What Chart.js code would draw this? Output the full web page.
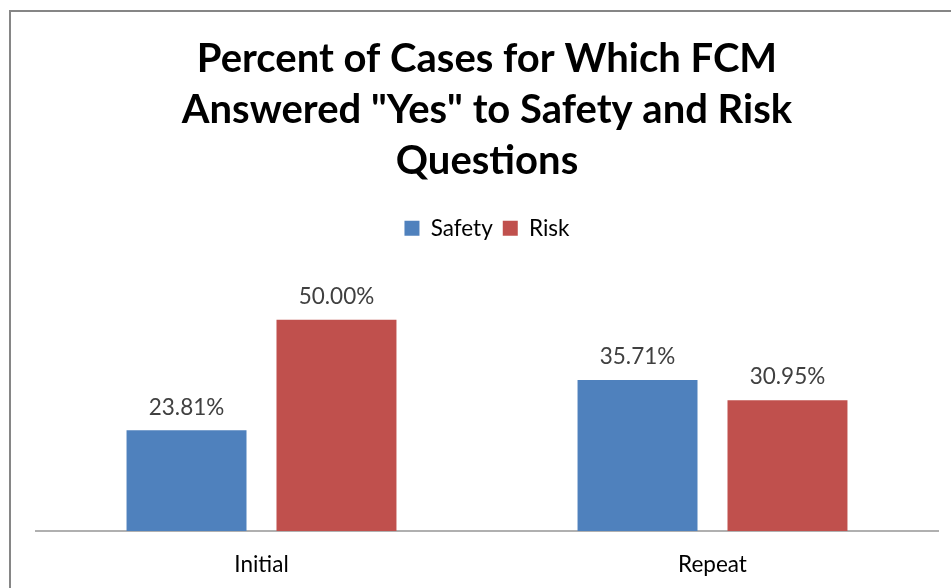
<!DOCTYPE html>
<html>
<head>
<meta charset="utf-8">
<script src="https://cdn.jsdelivr.net/npm/chart.js@4/dist/chart.umd.min.js"></script>
<style>
html,body{margin:0;padding:0;background:#fff;}
#wrap{width:951px;height:588px;position:relative;}
</style>
</head>
<body>
<div id="wrap"><canvas id="c" width="951" height="588"></canvas></div>
<script>
const categories = ["Initial", "Repeat"];
const safetyValues = [23.81, 35.71];
const riskValues = [50.00, 30.95];
const seriesNames = ["Safety", "Risk"];
const titleLines = ["Percent of Cases for Which FCM", "Answered \"Yes\" to Safety and Risk", "Questions"];

const FONT = "Lato, 'Open Sans', sans-serif";
const TXT = 22.5;

const frame = {
  id: 'frame',
  beforeDraw(chart) {
    const ctx = chart.ctx;
    ctx.save();
    ctx.fillStyle = '#fff';
    ctx.fillRect(0, 0, chart.width, chart.height);
    ctx.strokeStyle = '#868686';
    ctx.lineWidth = 2;
    ctx.beginPath();
    ctx.moveTo(10, chart.height + 5);
    ctx.lineTo(10, 11);
    ctx.lineTo(chart.width + 5, 11);
    ctx.stroke();
    ctx.restore();
  }
};

const valueLabels = {
  id: 'valueLabels',
  afterDatasetsDraw(chart) {
    const ctx = chart.ctx;
    ctx.save();
    ctx.font = TXT + "px " + FONT;
    ctx.fillStyle = '#404040';
    ctx.textAlign = 'center';
    ctx.textBaseline = 'middle';
    chart.data.datasets.forEach((ds, i) => {
      chart.getDatasetMeta(i).data.forEach((el, j) => {
        ctx.fillText(ds.data[j].toFixed(2) + '%', el.x, el.y - 23);
      });
    });
    ctx.restore();
  }
};

new Chart(document.getElementById('c'), {
  type: 'bar',
  data: {
    labels: categories,
    datasets: [
      { label: seriesNames[0], data: safetyValues, backgroundColor: '#4f81bd' },
      { label: seriesNames[1], data: riskValues, backgroundColor: '#c0504d' }
    ]
  },
  options: {
    responsive: false,
    animation: false,
    devicePixelRatio: 1,
    categoryPercentage: 0.665,
    barPercentage: 0.8,
    layout: { padding: { left: 36, right: 13, top: 24, bottom: 0 } },
    plugins: {
      title: {
        display: true,
        text: titleLines,
        color: '#000',
        font: { family: FONT, size: 40, weight: 'bold', lineHeight: 1.275 },
        padding: { top: 10, bottom: 20 }
      },
      legend: {
        display: true,
        position: 'top',
        labels: {
          boxWidth: 15, boxHeight: 15,
          color: '#000',
          font: { family: FONT, size: TXT },
          padding: 10
        }
      },
      tooltip: { enabled: false }
    },
    scales: {
      x: {
        grid: { display: false, drawTicks: false },
        border: { display: true, color: '#b0b0b0', width: 2 },
        ticks: { color: '#000', font: { family: FONT, size: TXT }, padding: 20 },
        afterFit(scale) { scale.height = 57; }
      },
      y: {
        display: false,
        min: 0,
        max: 66.6
      }
    }
  },
  plugins: [frame, valueLabels]
});
</script>
</body>
</html>
